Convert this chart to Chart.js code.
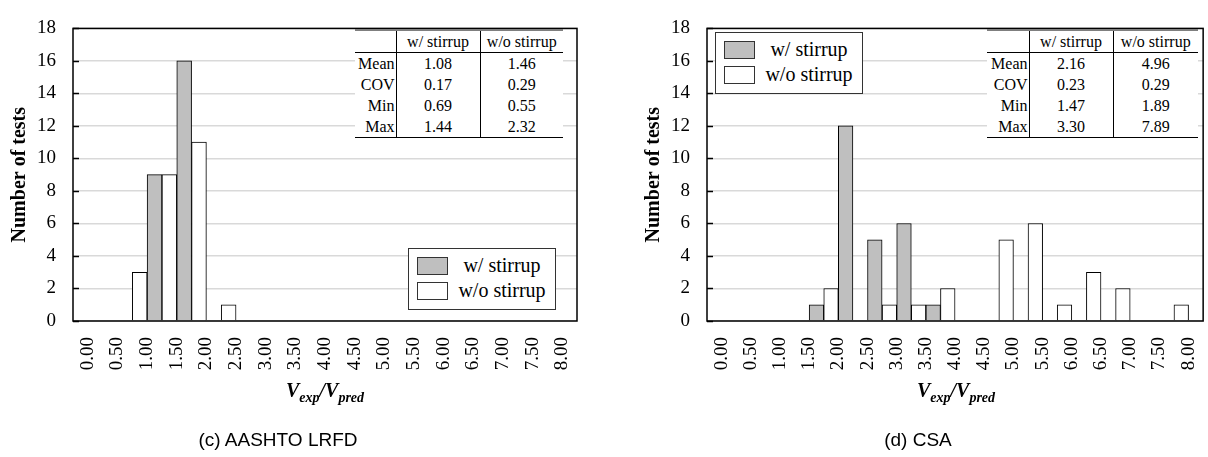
<!DOCTYPE html>
<html>
<head>
<meta charset="utf-8">
<script src="https://cdn.jsdelivr.net/npm/chart.js@4.4.0/dist/chart.umd.min.js"></script>
<style>
  html, body { margin: 0; padding: 0; background: #fff; }
  body { width: 1208px; height: 457px; position: relative; overflow: hidden; font-family: "Liberation Serif", "Times New Roman", serif; }
  .box { position: absolute; top: 0; height: 457px; }
  #box1 { left: 0; width: 604px; }
  #box2 { left: 620px; width: 608px; }
  .stats { position: absolute; border-collapse: collapse; background: #fff; font: 16px "Liberation Serif", serif; color: #000; table-layout: fixed; }
  .stats td { padding: 0; text-align: center; height: 21px; line-height: 21px; white-space: nowrap; }
  .stats tr.hd td { border-top: 2px solid #7f7f7f; border-bottom: 1.5px solid #000; }
  .stats tr.last td { border-bottom: 1.5px solid #000; }
  .stats td.c1 { border-right: 1px solid #000; text-align: right; padding-right: 1px; }
  .stats td.c2 { border-right: 1px solid #000; }
  .legend { position: absolute; width: 146px; height: 60px; border: 1.5px solid #333; background: #fff; }
  .legend .sw { position: absolute; left: 8px; width: 29px; height: 16px; border: 1px solid #333; }
  .legend .tx { position: absolute; left: 40px; width: 106px; text-align: center; font: 20px "Liberation Serif", serif; line-height: 20px; color: #000; }
  .xt { position: absolute; width: 200px; text-align: center; font: italic bold 20px "Liberation Serif", serif; line-height: 20px; color: #000; }
  .xt sub { font-size: 14px; vertical-align: -5px; line-height: 0; }
  .cap { position: absolute; width: 200px; text-align: center; font: 19px "Liberation Sans", Arial, sans-serif; line-height: 19px; color: #000; }
</style>
</head>
<body>
<div class="box" id="box1"><canvas id="c1" width="604" height="457"></canvas></div>
<div class="box" id="box2"><canvas id="c2" width="608" height="457"></canvas></div>

<table class="stats" id="t1" style="left:355px; top:29px; width:208px;">
  <colgroup><col style="width:41px"><col style="width:84px"><col style="width:83px"></colgroup>
</table>
<table class="stats" id="t2" style="left:987px; top:29px; width:211px;">
  <colgroup><col style="width:42px"><col style="width:84px"><col style="width:85px"></colgroup>
</table>

<div class="legend" id="lg1" style="left:408px; top:248px;"></div>
<div class="legend" id="lg2" style="left:715px; top:32px;"></div>

<div class="xt" style="left:225px; top:380px;">V<sub>exp</sub>/V<sub>pred</sub></div>
<div class="xt" style="left:856px; top:380px;">V<sub>exp</sub>/V<sub>pred</sub></div>

<div class="cap" style="left:178px; top:430px;">(c) AASHTO LRFD</div>
<div class="cap" style="left:818px; top:430px;">(d) CSA</div>

<script>
// ---------- DATA ----------
const xLabels = ['0.00','0.50','1.00','1.50','2.00','2.50','3.00','3.50','4.00',
                 '4.50','5.00','5.50','6.00','6.50','7.00','7.50','8.00'];
// counts per bin between consecutive labels (16 bins)
const aashtoWith    = [0,0,9,16,0,0,0,0,0,0,0,0,0,0,0,0];
const aashtoWithout = [0,3,9,11,1,0,0,0,0,0,0,0,0,0,0,0];
const csaWith       = [0,0,0,1,12,5,6,1,0,0,0,0,0,0,0,0];
const csaWithout    = [0,0,0,2,0,1,1,2,0,5,6,1,3,2,0,1];

const seriesNames = ['w/ stirrup', 'w/o stirrup'];
const statNames = ['Mean', 'COV', 'Min', 'Max'];
const aashtoStatsWith    = ['1.08', '0.17', '0.69', '1.44'];
const aashtoStatsWithout = ['1.46', '0.29', '0.55', '2.32'];
const csaStatsWith       = ['2.16', '0.23', '1.47', '3.30'];
const csaStatsWithout    = ['4.96', '0.29', '1.89', '7.89'];

const yMin = 0, yMax = 18, yStep = 2;
const yTitle = 'Number of tests';

// ---------- HELPERS ----------
const GREY = '#bfbfbf';
const SERIF = '"Liberation Serif", "Times New Roman", serif';

function buildTable(id, w, wo) {
  const t = document.getElementById(id);
  let html = '<tr class="hd"><td class="c1"></td><td class="c2">' + seriesNames[0] + '</td><td>' + seriesNames[1] + '</td></tr>';
  statNames.forEach((n, i) => {
    html += '<tr' + (i === statNames.length - 1 ? ' class="last"' : '') + '><td class="c1">' + n +
            '</td><td class="c2">' + w[i] + '</td><td>' + wo[i] + '</td></tr>';
  });
  t.insertAdjacentHTML('beforeend', html);
}
buildTable('t1', aashtoStatsWith, aashtoStatsWithout);
buildTable('t2', csaStatsWith, csaStatsWithout);

function buildLegend(id) {
  const el = document.getElementById(id);
  el.innerHTML =
    '<div class="sw" style="top:8px;background:' + GREY + '"></div>' +
    '<div class="tx" style="top:6px">' + seriesNames[0] + '</div>' +
    '<div class="sw" style="top:33px;background:#fff"></div>' +
    '<div class="tx" style="top:31px">' + seriesNames[1] + '</div>';
}
buildLegend('lg1');
buildLegend('lg2');

const framePlugin = {
  id: 'frame',
  afterDatasetsDraw(chart) {
    const { ctx, chartArea: a, scales: { y } } = chart;
    ctx.save();
    ctx.strokeStyle = '#000';
    ctx.lineWidth = 1.5;
    y.ticks.forEach(t => {
      const py = Math.round(y.getPixelForValue(t.value)) + 0.5;
      ctx.beginPath();
      ctx.moveTo(a.left, py);
      ctx.lineTo(a.left + 6, py);
      ctx.stroke();
    });
    ctx.strokeRect(a.left, a.top, a.right - a.left, a.bottom - a.top);
    ctx.restore();
  }
};

function toPoints(counts) {
  return counts.map((v, i) => ({ x: i + 0.5, y: v }));
}

function makeChart(canvasId, withCounts, withoutCounts, geo) {
  return new Chart(document.getElementById(canvasId), {
    type: 'bar',
    data: {
      datasets: [
        { label: seriesNames[0], data: toPoints(withCounts), backgroundColor: GREY, borderColor: '#000', borderWidth: 1 },
        { label: seriesNames[1], data: toPoints(withoutCounts), backgroundColor: '#fff', borderColor: '#000', borderWidth: 1 }
      ]
    },
    options: {
      responsive: false,
      maintainAspectRatio: false,
      animation: false,
      layout: { padding: { top: 18, right: geo.right, left: 0, bottom: 0 } },
      plugins: { legend: { display: false }, tooltip: { enabled: false } },
      datasets: { bar: { categoryPercentage: 1.0, barPercentage: 1.0 } },
      scales: {
        x: {
          type: 'linear',
          min: -0.5,
          max: xLabels.length - 0.5,
          offset: false,
          grid: { display: false, offset: false, drawTicks: false },
          border: { display: false },
          afterBuildTicks: (scale) => { scale.ticks = xLabels.map((_, i) => ({ value: i })); },
          afterFit: (scale) => { scale.height = 136; },
          ticks: {
            autoSkip: false,
            minRotation: 90,
            maxRotation: 90,
            padding: 16,
            color: '#000',
            font: { family: SERIF, size: 19 },
            callback: (v) => xLabels[Math.round(v)]
          }
        },
        y: {
          min: yMin,
          max: yMax,
          afterFit: (scale) => { scale.width = geo.yWidth; },
          grid: { color: '#d9d9d9', lineWidth: 1.5, drawTicks: false },
          border: { display: false },
          ticks: {
            stepSize: yStep,
            padding: 17,
            color: '#000',
            font: { family: SERIF, size: 19 }
          },
          title: {
            display: true,
            text: yTitle,
            color: '#000',
            font: { family: SERIF, size: 20, weight: 'bold' },
            padding: { top: geo.titlePad, bottom: 0 }
          }
        }
      }
    },
    plugins: [framePlugin]
  });
}

makeChart('c1', aashtoWith, aashtoWithout, { yWidth: 73, right: 27, titlePad: 8 });
makeChart('c2', csaWith, csaWithout, { yWidth: 87, right: 22, titlePad: 22 });
</script>
</body>
</html>
